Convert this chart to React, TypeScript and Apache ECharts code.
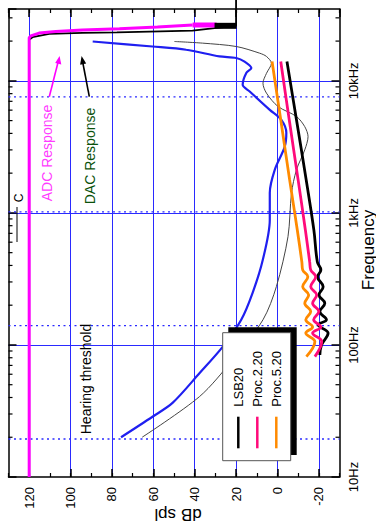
import React, { useEffect, useRef } from "react";
import * as echarts from "echarts";

// ---- axes ----
const dbRange = [-30, 130];
const freqRange = [10, 35000];
const minorFreqs = [20, 30, 40, 50, 60, 70, 80, 90, 200, 300, 400, 500, 600, 700, 800, 900, 2000, 3000, 4000, 5000, 6000, 7000, 8000, 9000, 20000, 30000];
const auxFreqs = [19.4, 140, 1019, 7570];
const xTitle = "dB spl";
const yTitle = "Frequency";

// ---- series data: [dB spl, Hz] ----
const adcResponse = [[120, 10], [120, 21200], [119.2, 21900], [115.2, 23000], [107.1, 23600], [94.3, 24300], [76.4, 24800], [58, 25600], [41, 26500]];
const adcStopband = [[41, 26500], [29.4, 26500]];
const dacResponse = [[120, 10], [120, 20500], [118.4, 21400], [110.3, 22700], [94.2, 23100], [77.6, 23300], [41, 24000], [30.4, 25100], [20, 26100], [20, 41000]];
const dacStopband = [[30.4, 26100], [19.7, 26100]];
const hearingThreshold = [[89.3, 19860], [60.4, 18200], [44.1, 17200], [28.0, 15300], [19.9, 14900], [15.9, 14000], [12.6, 12500], [15.0, 11500], [16.8, 9330], [13.4, 8300], [3.7, 6030], [-1.9, 5070], [-4.3, 4040], [-3.5, 3160], [1.3, 2120], [3.7, 1420], [3.7, 885], [7.1, 440], [12.0, 248], [17.5, 155], [26.4, 97], [37.7, 61], [50.7, 36.4], [60.4, 28.6], [75.6, 20.0]];
const thresholdAlt = [[49.8, 19860], [36.2, 19300], [19.9, 18200], [8.6, 16200], [5.3, 15300], [2.9, 13600], [5.3, 11400], [7.0, 9600], [5.3, 8070], [-0.3, 6390], [-9.2, 5370], [-13.2, 4500], [-14.8, 3780], [-13.2, 3000], [-9.2, 2120], [-6.8, 1410], [-5.1, 661], [0.5, 277], [7.0, 155], [21.7, 77], [37.7, 40.6], [65.4, 20.0]];
const lsb20 = [[-4.6, 14000], [-9.2, 5070], [-13.9, 1778], [-17.6, 743], [-19.3, 425], [-21.0, 370], [-19.4, 329], [-22.1, 276], [-20.1, 239], [-22.9, 207], [-20.5, 179], [-23.7, 155], [-19.7, 142], [-24.5, 123], [-21.3, 100], [-20.5, 84]];
const proc220 = [[-1.6, 14000], [-5.7, 5070], [-10.0, 1778], [-13.5, 743], [-15.6, 425], [-16.1, 370], [-18.5, 329], [-16.1, 276], [-19.0, 239], [-17.0, 207], [-20.0, 179], [-17.5, 155], [-21.0, 137], [-17.0, 123], [-21.4, 106], [-18.1, 81.5]];
const proc520 = [[2.6, 14000], [-1.6, 5070], [-5.9, 1778], [-9.6, 743], [-11.8, 425], [-12.2, 370], [-14.7, 329], [-12.2, 276], [-15.1, 239], [-13.2, 207], [-16.1, 179], [-13.7, 155], [-17.0, 137], [-13.7, 123], [-18.1, 106], [-14.0, 81.5]];
const legendNames = ["LSB20", "Proc.2.20", "Proc.5.20"];

const FONT = "'Liberation Sans', Arial, Helvetica, sans-serif";
const BLUE = "#2a2aff";
const MAGENTA = "#ff00ff";
const PINK = "#ff0a7a";
const ORANGE = "#ff8a00";
const legendColors = ["#000000", PINK, ORANGE];

function fmtFreq(v: number) {
  if (v >= 1000) return Math.round(v / 1000) + "kHz";
  return Math.round(v) + "Hz";
}

function line(name: string, data: number[][], color: string, width: number, extra: any = {}) {
  return {
    type: "line", name, data, xAxisIndex: 0, yAxisIndex: 0,
    symbol: "none", showSymbol: false, silent: true,
    lineStyle: { color, width }, itemStyle: { color },
    ...extra,
  };
}

function majorX(position: string, withLabels: boolean) {
  return {
    type: "value", min: dbRange[0], max: dbRange[1], inverse: true, position,
    splitNumber: 8, minInterval: 20, maxInterval: 20,
    axisLine: { show: true, onZero: false, lineStyle: { color: "#000", width: 1.5 } },
    axisTick: { show: true, inside: true, length: 8, lineStyle: { color: "#000", width: 1.5 } },
    axisLabel: {
      show: withLabels, rotate: 90, margin: 10, fontSize: 13, color: "#000", fontFamily: FONT,
      showMinLabel: false, showMaxLabel: false,
    },
    splitLine: { show: withLabels, showMinLine: false, showMaxLine: false, lineStyle: { color: BLUE, width: 1 } },
  };
}

function minorX(position: string) {
  return {
    type: "value", min: dbRange[0], max: dbRange[1], inverse: true, position, interval: 10,
    axisLine: { show: false, onZero: false },
    axisTick: { show: true, inside: true, length: 4, lineStyle: { color: "#000", width: 1.2 } },
    axisLabel: { show: false },
    splitLine: { show: false },
  };
}

export default function App() {
  const ref = useRef<HTMLDivElement>(null);
  useEffect(() => {
    if (!ref.current) return;
    const chart = echarts.init(ref.current, null, { renderer: "svg" });

    const legendGraphics: any[] = [
      { type: "rect", z: 100, shape: { x: 228.3, y: 327.3, width: 68.4, height: 127.7 }, style: { fill: "#000" } },
      { type: "rect", z: 101, shape: { x: 222.7, y: 332.7, width: 68, height: 128 }, style: { fill: "#fff", stroke: "#555", lineWidth: 1 } },
    ];
    legendNames.forEach((n, i) => {
      const x = 238.3 + 19 * i;
      legendGraphics.push({ type: "line", z: 102, shape: { x1: x, y1: 416.7, x2: x, y2: 448.3 }, style: { stroke: legendColors[i], lineWidth: 2.5 } });
      legendGraphics.push({
        type: "text", z: 102, x, y: 406.7, rotation: Math.PI / 2,
        style: { text: n, fill: "#000", fontSize: 13, fontFamily: FONT, align: "left", verticalAlign: "middle" },
      });
    });

    const titles: any[] = [
      { type: "text", z: 100, x: 178, y: 514.5, rotation: Math.PI, style: { text: xTitle, fill: "#000", fontSize: 17, fontFamily: FONT, align: "center", verticalAlign: "middle" } },
      { type: "text", z: 100, x: 368, y: 250, rotation: Math.PI / 2, style: { text: yTitle, fill: "#000", fontSize: 17, fontFamily: FONT, align: "center", verticalAlign: "middle" } },
    ];

    const annotations: any[] = [
      { type: "text", z: 100, x: 46.5, y: 153, rotation: Math.PI / 2, style: { text: "ADC Response", fill: "#ff3cff", fontSize: 14, fontFamily: FONT, align: "center", verticalAlign: "middle" } },
      { type: "text", z: 100, x: 90, y: 156, rotation: Math.PI / 2, style: { text: "DAC Response", fill: "#0b520b", fontSize: 14, fontFamily: FONT, align: "center", verticalAlign: "middle" } },
      { type: "text", z: 100, x: 86, y: 379, rotation: Math.PI / 2, style: { text: "Hearing threshold", fill: "#000", fontSize: 14, fontFamily: FONT, align: "center", verticalAlign: "middle" } },
      { type: "text", z: 100, x: 19, y: 198, rotation: Math.PI / 2, style: { text: "C", fill: "#000", fontSize: 12, fontFamily: FONT, align: "center", verticalAlign: "middle" } },
      { type: "line", z: 100, shape: { x1: 17, y1: 207, x2: 17, y2: 242 }, style: { stroke: "#000", lineWidth: 1 } },
      { type: "line", z: 100, shape: { x1: 49.3, y1: 96.7, x2: 58.6, y2: 60 }, style: { stroke: MAGENTA, lineWidth: 1.6 } },
      { type: "polygon", z: 100, shape: { points: [[59.6, 56], [61.3, 64.5], [55.2, 63]] }, style: { fill: MAGENTA } },
      { type: "line", z: 100, shape: { x1: 89.3, y1: 96.7, x2: 82.3, y2: 60 }, style: { stroke: "#000", lineWidth: 1.6 } },
      { type: "polygon", z: 100, shape: { points: [[81.6, 56], [86.2, 63.6], [80.1, 64.8]] }, style: { fill: "#000" } },
    ];

    const option: any = {
      animation: false,
      backgroundColor: "#fff",
      textStyle: { fontFamily: FONT },
      grid: { left: 8.5, right: 36.5, top: 9, bottom: 50, containLabel: false, outerBoundsMode: "none" },
      xAxis: [majorX("bottom", true), minorX("bottom"), majorX("top", false), minorX("top")],
      yAxis: [
        {
          type: "log", logBase: 10, min: freqRange[0], max: freqRange[1], position: "right",
          axisLine: { show: true, onZero: false, lineStyle: { color: "#000", width: 1.5 } },
          axisTick: { show: true, inside: true, length: 8, lineStyle: { color: "#000", width: 1.5 } },
          axisLabel: { show: true, rotate: 90, margin: 7, fontSize: 13, color: "#000", fontFamily: FONT, showMaxLabel: false, formatter: fmtFreq },
          splitLine: { show: true, showMinLine: false, showMaxLine: false, lineStyle: { color: BLUE, width: 1 } },
        },
        {
          type: "log", logBase: 10, min: freqRange[0], max: freqRange[1], position: "left",
          axisLine: { show: true, onZero: false, lineStyle: { color: "#000", width: 1.5 } },
          axisTick: { show: true, inside: true, length: 8, lineStyle: { color: "#000", width: 1.5 } },
          axisLabel: { show: false },
          splitLine: { show: false },
        },
      ],
      graphic: [...legendGraphics, ...titles, ...annotations],
      series: [
        {
          type: "custom", name: "auxGrid", xAxisIndex: 0, yAxisIndex: 0, silent: true, z: 1,
          data: auxFreqs.map((f) => [dbRange[0], f]),
          renderItem: (_p: any, api: any) => {
            const f = api.value(1);
            const r = api.coord([dbRange[0], f]);
            const l = api.coord([dbRange[1], f]);
            return { type: "line", shape: { x1: l[0], y1: l[1], x2: r[0], y2: r[1] }, style: { stroke: BLUE, lineWidth: 1.3, lineDash: [2, 3.5] } };
          },
        },
        {
          type: "custom", name: "minorTicks", xAxisIndex: 0, yAxisIndex: 0, silent: true, z: 10,
          data: minorFreqs.map((f) => [dbRange[0], f]),
          renderItem: (_p: any, api: any) => {
            const f = api.value(1);
            const r = api.coord([dbRange[0], f]);
            const l = api.coord([dbRange[1], f]);
            return {
              type: "group", children: [
                { type: "line", shape: { x1: r[0], y1: r[1], x2: r[0] - 4, y2: r[1] }, style: { stroke: "#000", lineWidth: 1.2 } },
                { type: "line", shape: { x1: l[0], y1: l[1], x2: l[0] + 4, y2: l[1] }, style: { stroke: "#000", lineWidth: 1.2 } },
              ],
            };
          },
        },
        line("Hearing threshold", hearingThreshold, "#1f1ff0", 2.2, { smooth: 0.3 }),
        line("Threshold (alt)", thresholdAlt, "#444", 1, { smooth: 0.3 }),
        line("DAC Response", dacResponse, "#000", 1.8, { clip: false }),
        line("ADC Response", adcResponse, MAGENTA, 3),
        line("ADC stopband", adcStopband, MAGENTA, 5),
        line("DAC stopband", dacStopband, "#000", 6),
        line(legendNames[0], lsb20, "#000", 2.8, { smooth: 0.4 }),
        line(legendNames[1], proc220, PINK, 2.8, { smooth: 0.4 }),
        line(legendNames[2], proc520, ORANGE, 2.8, { smooth: 0.4 }),
      ],
    };
    chart.setOption(option);
    return () => chart.dispose();
  }, []);
  return <div ref={ref} style={{ position: "fixed", left: 0, top: 0, width: 376, height: 527, background: "#fff" }} />;
}
